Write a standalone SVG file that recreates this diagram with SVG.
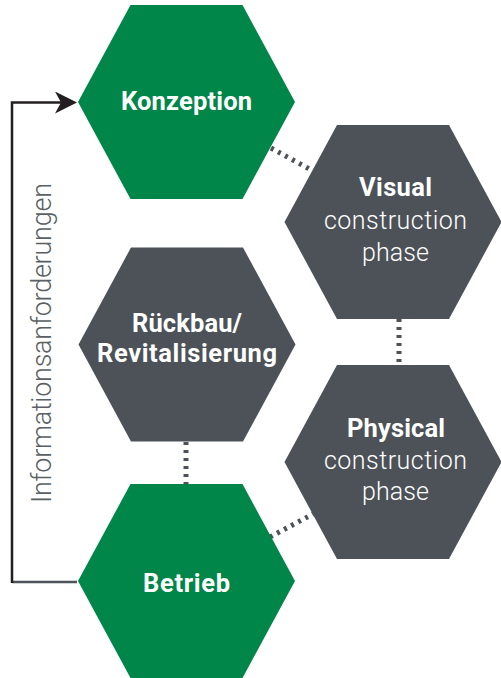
<svg xmlns="http://www.w3.org/2000/svg" xmlns:xlink="http://www.w3.org/1999/xlink" width="501" height="678" viewBox="0 0 501 678">
  <style>
    .green { fill: #008649; }
    .grey { fill: #4c5257; }
    .bold { font-family: Roboto, "Liberation Sans", sans-serif; font-weight: 700; font-size: 25.5px; fill: #ffffff; text-anchor: middle; }
    .light { font-family: Roboto, "Liberation Sans", sans-serif; font-weight: 300; font-size: 25px; fill: #ffffff; text-anchor: middle; }
    .side { font-family: Roboto, "Liberation Sans", sans-serif; font-weight: 300; font-size: 27px; fill: #5a5f63; text-anchor: middle; }
    .dots { fill: none; stroke: #4c5257; stroke-width: 5; stroke-dasharray: 3 5; }
  </style>
  <defs>
    <polygon id="hex" points="-108.5,0 -56,-97 56,-97 108.5,0 56,97 -56,97"/>
    <marker id="arrow" viewBox="0 0 22 22" refX="15" refY="11" markerWidth="22" markerHeight="22" markerUnits="userSpaceOnUse" orient="auto">
      <path d="M0,0 L22,11 L0,22 L6,11 Z" fill="#231f20"/>
    </marker>
  </defs>
  <rect width="501" height="678" fill="#ffffff"/>

  <g id="connectors">
    <path class="dots" d="M271,148 L313,171"/>
    <path class="dots" d="M399,319 L399,364"/>
    <path class="dots" d="M186,442 L186,484"/>
    <path class="dots" d="M270,537 L313,514"/>
    <path d="M77,582 H12" fill="none" stroke="#4c5257" stroke-width="2.5"/>
    <path d="M12,583 V102.5 H70" fill="none" stroke="#231f20" stroke-width="2.5" marker-end="url(#arrow)"/>
    <text class="side" transform="translate(51,343) rotate(-90)" textLength="320" lengthAdjust="spacing">Informationsanforderungen</text>
  </g>

  <g id="node-konzeption">
    <use xlink:href="#hex" href="#hex" class="green" transform="translate(186.5,102)"/>
    <text class="bold" x="186.5" y="110" textLength="131" lengthAdjust="spacing">Konzeption</text>
  </g>

  <g id="node-visual">
    <use xlink:href="#hex" href="#hex" class="grey" transform="translate(393,222)"/>
    <text class="bold" x="395.5" y="196" textLength="73" lengthAdjust="spacing">Visual</text>
    <text class="light" x="395.5" y="229" textLength="143" lengthAdjust="spacing">construction</text>
    <text class="light" x="395.5" y="261" textLength="67" lengthAdjust="spacing">phase</text>
  </g>

  <g id="node-physical">
    <use xlink:href="#hex" href="#hex" class="grey" transform="translate(393,462)"/>
    <text class="bold" x="396" y="437" textLength="98" lengthAdjust="spacing">Physical</text>
    <text class="light" x="395.5" y="469" textLength="143" lengthAdjust="spacing">construction</text>
    <text class="light" x="395.5" y="500" textLength="67" lengthAdjust="spacing">phase</text>
  </g>

  <g id="node-rueckbau">
    <use xlink:href="#hex" href="#hex" class="grey" transform="translate(187,344.5)"/>
    <text class="bold" x="187" y="332" textLength="110" lengthAdjust="spacing">Rückbau/</text>
    <text class="bold" x="187" y="362" textLength="180" lengthAdjust="spacing">Revitalisierung</text>
  </g>

  <g id="node-betrieb">
    <use xlink:href="#hex" href="#hex" class="green" transform="translate(186.5,581)"/>
    <text class="bold" x="186.5" y="592" textLength="87" lengthAdjust="spacing">Betrieb</text>
  </g>
</svg>
